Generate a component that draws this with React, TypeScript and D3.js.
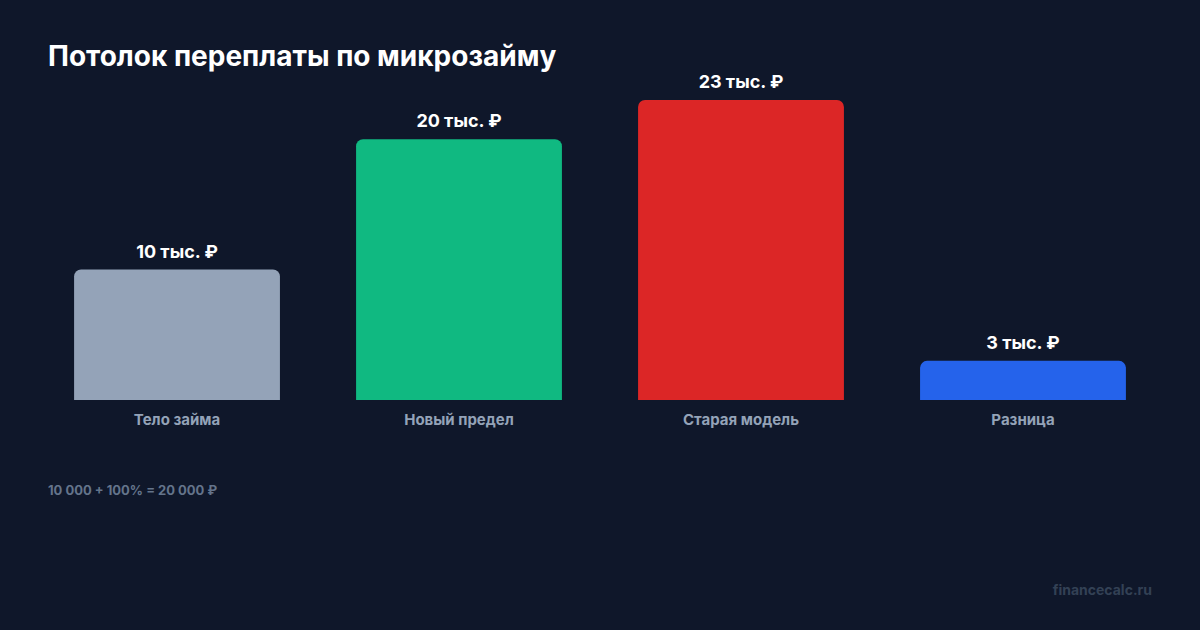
import React from "react";
import * as d3 from "d3";

const categories = ["Тело займа", "Новый предел", "Старая модель", "Разница"];
const values = [10000, 20000, 23000, 3000];
const valueLabels = ["10 тыс. ₽", "20 тыс. ₽", "23 тыс. ₽", "3 тыс. ₽"];
const colors = ["#94a3b8", "#10b981", "#dc2626", "#2563eb"];

const W = 1200;
const H = 630;
const FONT = "Inter, 'Noto Sans', sans-serif";

function topRoundedRect(x: number, y: number, w: number, h: number, r: number) {
  const rr = Math.min(r, h / 2, w / 2);
  const p = d3.path();
  p.moveTo(x, y + h);
  p.lineTo(x, y + rr);
  p.arcTo(x, y, x + rr, y, rr);
  p.lineTo(x + w - rr, y);
  p.arcTo(x + w, y, x + w, y + rr, rr);
  p.lineTo(x + w, y + h);
  p.closePath();
  return p.toString();
}

export default function App() {
  const x = d3
    .scaleBand<string>()
    .domain(categories)
    .range([48, 1152])
    .paddingInner(0.27)
    .paddingOuter(0.0925);
  const y = d3.scaleLinear().domain([0, 23000]).range([400, 100]);

  return (
    <svg
      width={W}
      height={H}
      style={{ position: "absolute", left: 0, top: 0, display: "block" }}
      fontFamily={FONT}
    >
      <rect width={W} height={H} fill="#0f172a" />
      <text x={48} y={66} fill="#ffffff" fontSize={28} fontWeight={700}>
        Потолок переплаты по микрозайму
      </text>
      {categories.map((c, i) => {
        const bx = x(c)!;
        const bw = x.bandwidth();
        const by = y(values[i]);
        const bh = y(0) - by;
        return (
          <g key={c}>
            <path d={topRoundedRect(bx, by, bw, bh, 7)} fill={colors[i]} />
            <text
              x={bx + bw / 2}
              y={by - 12}
              textAnchor="middle"
              fill="#ffffff"
              fontSize={18}
              fontWeight={700}
            >
              {valueLabels[i]}
            </text>
            <text
              x={bx + bw / 2}
              y={425}
              textAnchor="middle"
              fill="#94a3b8"
              fontSize={15}
              fontWeight={700}
            >
              {c}
            </text>
          </g>
        );
      })}
      <text x={48} y={495} fill="#64748b" fontSize={13} fontWeight={700}>
        10 000 + 100% = 20 000 ₽
      </text>
      <text
        x={1152}
        y={595}
        textAnchor="end"
        fill="#334155"
        fontSize={14}
        fontWeight={700}
      >
        financecalc.ru
      </text>
    </svg>
  );
}
